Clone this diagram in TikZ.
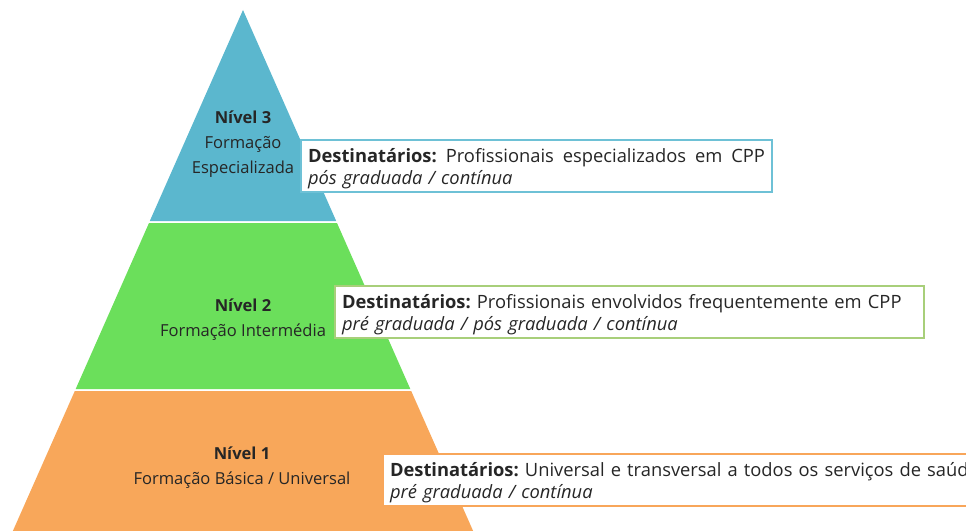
\documentclass[tikz,border=0pt]{standalone}
\usepackage{fontspec}
\setmainfont{Open Sans}
\definecolor{pblue}{HTML}{5BB7CE}
\definecolor{pgreen}{HTML}{6BDF5B}
\definecolor{porange}{HTML}{F8A75A}
\definecolor{bblue}{HTML}{6EC1D6}
\definecolor{bgreen}{HTML}{A8CF7A}
\definecolor{borange}{HTML}{F8A65A}
\definecolor{txt}{HTML}{262626}
\newcommand{\topstrut}{\rule{0pt}{14.4pt}}
\tikzset{
  lvltext/.style={align=center, text=txt, font=\fontsize{12.4}{18.75}\selectfont, inner sep=0pt},
  destbox/.style={draw=#1, line width=1.5pt, fill=white, anchor=north west,
    inner xsep=5.25pt, inner ysep=0pt, align=left, text=txt,
    font=\fontsize{13.75}{16.5}\selectfont\frenchspacing, minimum height=39pt}
}
\begin{document}
\begin{tikzpicture}[x=0.75pt,y=-0.75pt]
\useasboundingbox (0,0) rectangle (966,531);
\clip (0,0) rectangle (966,531);
% pyramid bands
\fill[pblue] (243,10) -- (336.2,221) -- (149.8,221) -- cycle;
\fill[pgreen] (149,223) -- (337,223) -- (410.3,389) -- (75.7,389) -- cycle;
\fill[porange] (74.8,391) -- (411.2,391) -- (475.8,537) -- (10.2,537) -- cycle;
% level texts
\node[lvltext] (l3) at (243,144) {\textbf{Nível 3}\\Formação\\Especializada};
\node[lvltext] (l2) at (243,320) {\textbf{Nível 2}\\Formação Intermédia};
\node[lvltext] (l1) at (242,468) {\textbf{Nível 1}\\Formação Básica / Universal};
% destination boxes
\node[destbox=bblue, text width=342.75pt] (d3) at (300,139)
  {\hbox to 342.75pt{\spaceskip=0.26em plus 1fil\topstrut\textbf{Destinatários:} Profissionais especializados em CPP}\\
   \textit{pós graduada / contínua}};
\node[destbox=bgreen, text width=431.25pt] (d2) at (334,285)
  {\topstrut\textbf{Destinatários:} Profissionais envolvidos frequentemente em CPP\\
   \textit{pré graduada / pós graduada / contínua}};
\node[destbox=borange, text width=480pt] (d1) at (382,453)
  {\topstrut\textbf{Destinatários:} Universal e transversal a todos os serviços de saúde\\
   \textit{pré graduada / contínua}};
\end{tikzpicture}
\end{document}
